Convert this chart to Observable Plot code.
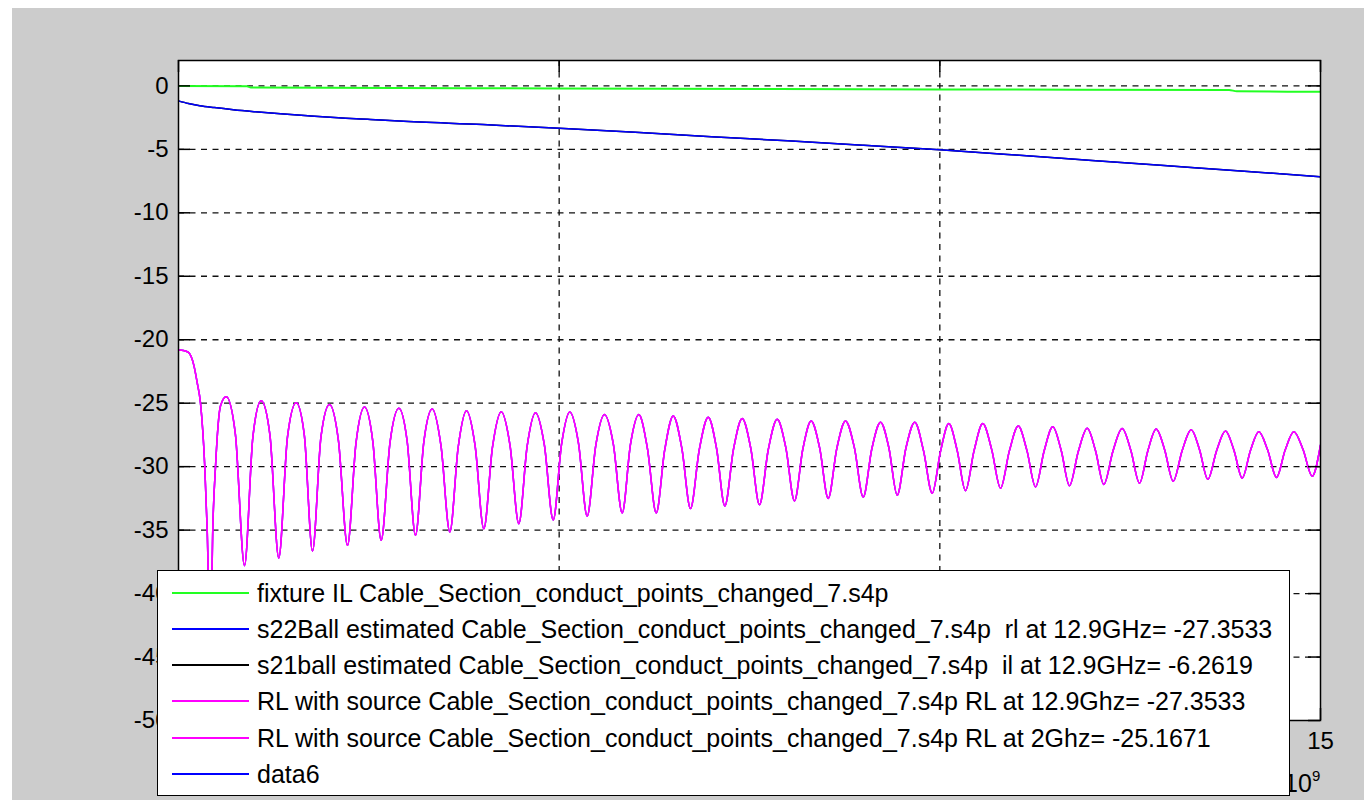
<!DOCTYPE html>
<html>
<head>
<meta charset="utf-8">
<script src="https://cdn.jsdelivr.net/npm/d3@7"></script>
<script src="https://cdn.jsdelivr.net/npm/@observablehq/plot@0.6"></script>
<style>
  html, body { margin: 0; padding: 0; background: #ffffff; }
  #wrap { position: relative; width: 1364px; height: 800px; overflow: hidden; font-family: "Liberation Sans", Arial, sans-serif; }
  #wrap svg { position: absolute; left: 0; top: 0; }
  .strip { position: absolute; background: #ffffff; }
  #legend { position: absolute; left: 157px; top: 570px; width: 1133px; height: 226px; background: white; border: 1.5px solid black; box-sizing: border-box; }
  .row { position: absolute; left: 0; height: 36px; width: 100%; }
  .swatch { position: absolute; left: 14px; top: 17px; width: 77px; height: 2px; }
  .label { position: absolute; left: 99px; top: 0; line-height: 36px; font-size: 25px; white-space: pre; color: #000; }
  #expo { position: absolute; left: 1284px; top: 768px; height: 30px; font-size: 25px; line-height: 30px; color: #000; white-space: pre; }
  #expo span { font-size: 15px; position: absolute; left: 28px; top: -7px; line-height: 30px; }
</style>
</head>
<body>
<div id="wrap"></div>
<script>
// ---------- data ----------
const xTicks = [0, 5, 10, 15];               // frequency, x 10^9 Hz
const xTickLabelsShown = [15];               // 0, 5, 10 sit behind the legend
const yTicks = [0, -5, -10, -15, -20, -25, -30, -35, -40, -45, -50];

// fixture IL (green)
const fixGHz = [0, 0.9, 0.95, 5, 10, 13.8, 13.9, 15];
const fixDb  = [0, -0.02, -0.12, -0.2, -0.28, -0.32, -0.43, -0.46];

// insertion loss (blue / black)
const ilGHz = [0, 0.13, 0.28, 0.47, 0.72, 1.01, 1.34, 1.70, 2.10, 2.52, 2.9, 4, 5, 6, 7, 8, 9, 10, 11, 12, 12.9, 14, 15];
const ilDb  = [-1.18, -1.39, -1.56, -1.71, -1.88, -2.04, -2.2, -2.36, -2.52, -2.64, -2.77, -3.05, -3.34, -3.66, -4.0, -4.33, -4.68, -5.04, -5.45, -5.88, -6.26, -6.72, -7.16];

// return loss (magenta) [GHz, dB]
const rlCurve = [
  [0, -20.8], [0.066, -20.85], [0.131, -21.0], [0.201, -22.0], [0.246, -23.4], [0.289, -25.0],
  [0.345, -30.0], [0.377, -35.0], [0.420, -45.0], [0.450, -35.0], [0.486, -30.0], [0.552, -25.2],
  [0.627, -24.5], [0.747, -27.43], [0.867, -37.8], [0.977, -27.66],
  [1.086, -24.8], [1.2015, -27.53], [1.317, -37.2], [1.4315, -27.65],
  [1.546, -24.96], [1.653, -27.53], [1.760, -36.65], [1.8715, -27.64],
  [1.983, -25.1], [2.1015, -27.99], [2.220, -36.2], [2.3315, -28.13],
  [2.443, -25.3], [2.5525, -28.03], [2.662, -35.8], [2.778, -28.10],
  [2.894, -25.4], [3.0035, -28.0], [3.113, -35.4], [3.2225, -28.04],
  [3.332, -25.46], [3.448, -28.37], [3.564, -35.15], [3.6735, -28.47],
  [3.783, -25.6], [3.8965, -28.39], [4.010, -34.9], [4.1245, -28.44],
  [4.239, -25.67], [4.3545, -28.32], [4.470, -34.5], [4.5795, -28.38],
  [4.689, -25.75], [4.8055, -28.29], [4.922, -34.2], [5.031, -28.25],
  [5.140, -25.7], [5.254, -28.16], [5.368, -33.9], [5.4815, -28.3],
  [5.595, -25.9], [5.7115, -28.23], [5.828, -33.65], [5.937, -28.23],
  [6.046, -25.9], [6.1605, -28.61], [6.275, -33.65], [6.3865, -28.68],
  [6.498, -26.0], [6.6115, -28.56], [6.725, -33.3], [6.8415, -28.62],
  [6.958, -26.1], [7.067, -28.55], [7.176, -33.1], [7.29, -28.62],
  [7.404, -26.2], [7.5175, -28.58], [7.631, -33.0], [7.7475, -28.63],
  [7.864, -26.27], [7.9775, -28.52], [8.091, -32.7], [8.2005, -28.61],
  [8.310, -26.4], [8.422, -28.54], [8.534, -32.5], [8.6475, -28.54],
  [8.761, -26.4], [8.8775, -28.5], [8.994, -32.4], [9.1075, -28.57],
  [9.221, -26.5], [9.3305, -28.51], [9.440, -32.25], [9.5555, -28.51],
  [9.671, -26.5], [9.7855, -28.74], [9.900, -32.1], [10.009, -28.8],
  [10.118, -26.6], [10.2275, -28.72], [10.337, -31.9], [10.4505, -28.72],
  [10.564, -26.6], [10.6805, -28.64], [10.797, -31.7], [10.9135, -28.76],
  [11.030, -26.8], [11.1435, -28.72], [11.257, -31.6], [11.3705, -28.75],
  [11.484, -26.85], [11.5935, -28.71], [11.703, -31.5], [11.8195, -28.79],
  [11.936, -26.98], [12.045, -28.75], [12.154, -31.4], [12.2745, -28.76],
  [12.395, -27.0], [12.509, -28.72], [12.623, -31.3], [12.7325, -28.74],
  [12.842, -27.04], [12.9535, -28.68], [13.065, -31.15], [13.1835, -28.72],
  [13.302, -27.1], [13.411, -28.66], [13.520, -31.0], [13.636, -28.72],
  [13.752, -27.2], [13.862, -28.68], [13.972, -30.9], [14.081, -28.71],
  [14.190, -27.25], [14.306, -28.69], [14.422, -30.85], [14.536, -28.69],
  [14.650, -27.25], [14.7705, -28.65], [14.891, -30.75], [15.0, -28.3]
];

const legendLabels = [
  "fixture IL Cable_Section_conduct_points_changed_7.s4p",
  "s22Ball estimated Cable_Section_conduct_points_changed_7.s4p  rl at 12.9GHz= -27.3533",
  "s21ball estimated Cable_Section_conduct_points_changed_7.s4p  il at 12.9GHz= -6.2619",
  "RL with source Cable_Section_conduct_points_changed_7.s4p RL at 12.9Ghz= -27.3533",
  "RL with source Cable_Section_conduct_points_changed_7.s4p RL at 2Ghz= -25.1671",
  "data6"
];
const legendColors = ["#22ff22", "#0000ff", "#000000", "#ff00ff", "#ff00ff", "#0000ff"];

// ---------- tables ----------
const fixRows = fixGHz.map((f, i) => ({f, v: fixDb[i]}));
const ilRows = ilGHz.map((f, i) => ({f, v: ilDb[i]}));
const rlRows = rlCurve.map(([f, v]) => ({f, v}));

const innerW = 1364 - 178 - 44;
const innerH = 800 - 60 - 80;
const tickLen = 12;
const gridStyle = {stroke: "#111", strokeWidth: 1.3, strokeDasharray: "6,5.5"};
const lineOpts = (stroke, w = 1.5) => ({x: "f", y: "v", stroke, strokeWidth: w, curve: "monotone-x", clip: true});

const chart = Plot.plot({
  width: 1364,
  height: 800,
  marginLeft: 178,
  marginRight: 44,
  marginTop: 60,
  marginBottom: 80,
  style: {background: "#cccccc", fontFamily: "Liberation Sans, Arial, sans-serif", fontSize: "24px", color: "black"},
  x: {domain: [0, 15], axis: null},
  y: {domain: [-50, 2], axis: null},
  marks: [
    Plot.frame({fill: "white", stroke: null}),
    Plot.ruleY(yTicks.filter(d => d > -50), gridStyle),
    Plot.ruleX(xTicks.filter(d => d > 0 && d < 15), gridStyle),
    Plot.line(rlRows, lineOpts(legendColors[1])),
    Plot.line(ilRows, lineOpts(legendColors[2])),
    Plot.line(fixRows, lineOpts(legendColors[0], 2)),
    Plot.line(rlRows, lineOpts(legendColors[3])),
    Plot.line(rlRows, lineOpts(legendColors[4])),
    Plot.line(ilRows, lineOpts(legendColors[5])),
    // inside ticks
    Plot.ruleY(yTicks, {stroke: "black", strokeWidth: 1.5, insetRight: innerW - tickLen}),
    Plot.ruleY(yTicks, {stroke: "black", strokeWidth: 1.5, insetLeft: innerW - tickLen}),
    Plot.ruleX(xTicks, {stroke: "black", strokeWidth: 1.5, insetTop: innerH - tickLen}),
    Plot.ruleX(xTicks, {stroke: "black", strokeWidth: 1.5, insetBottom: innerH - tickLen}),
    Plot.frame({stroke: "black", strokeWidth: 1.5}),
    Plot.axisY(yTicks, {tickSize: 0, tickPadding: 10, fontSize: 24, label: null, tickFormat: d => String(d), fill: "black"}),
    Plot.axisX(xTickLabelsShown, {tickSize: 0, tickPadding: 11, fontSize: 24, label: null, tickFormat: d => String(d), fill: "black"})
  ]
});

const wrapEl = document.getElementById("wrap");
wrapEl.appendChild(chart);

// thin white window border seen at the top and left of the screenshot
const stripTop = document.createElement("div");
stripTop.className = "strip";
Object.assign(stripTop.style, {left: "0px", top: "0px", width: "1364px", height: "8px"});
wrapEl.appendChild(stripTop);
const stripLeft = document.createElement("div");
stripLeft.className = "strip";
Object.assign(stripLeft.style, {left: "0px", top: "0px", width: "12px", height: "800px"});
wrapEl.appendChild(stripLeft);

const expoEl = document.createElement("div");
expoEl.id = "expo";
expoEl.innerHTML = "10<span>9</span>";
wrapEl.appendChild(expoEl);

const legendEl = document.createElement("div");
legendEl.id = "legend";
legendLabels.forEach((txt, i) => {
  const row = document.createElement("div");
  row.className = "row";
  row.style.top = (3.7 + i * 36.2) + "px";
  const sw = document.createElement("div");
  sw.className = "swatch";
  sw.style.background = legendColors[i];
  const lab = document.createElement("div");
  lab.className = "label";
  lab.textContent = txt;
  row.appendChild(sw);
  row.appendChild(lab);
  legendEl.appendChild(row);
});
wrapEl.appendChild(legendEl);
</script>
</body>
</html>
